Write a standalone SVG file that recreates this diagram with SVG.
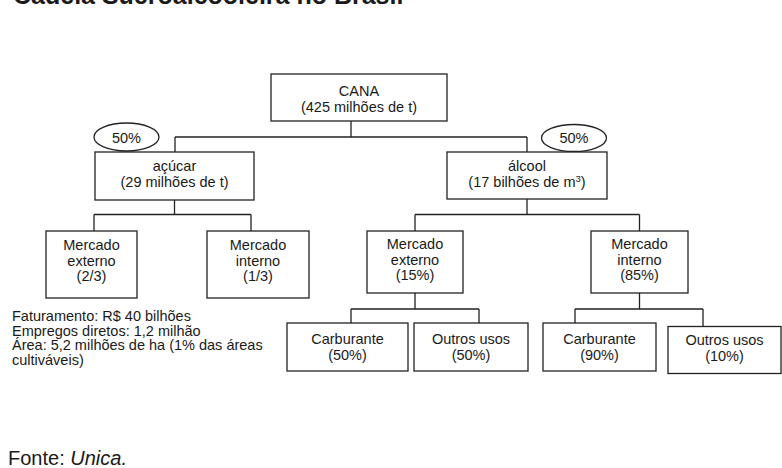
<svg xmlns="http://www.w3.org/2000/svg" width="782" height="468" viewBox="0 0 782 468">
<style>
  .box { fill: #ffffff; stroke: #222222; stroke-width: 1.3; }
  .ell { fill: #ffffff; stroke: #222222; stroke-width: 1.3; }
  .conn { fill: none; stroke: #222222; stroke-width: 1.3; }
  text { font-family: "Liberation Sans", Arial, Helvetica, sans-serif; fill: #1a1a1a; }
  .t { font-size: 14.5px; text-anchor: middle; }
  .note { font-size: 14.5px; }
  .title { font-size: 25px; font-weight: bold; }
  .src { font-size: 20px; }
</style>
<rect x="0" y="0" width="782" height="468" fill="#ffffff"/>
<text class="title" x="13" y="3.5">Cadeia Sucroalcooleira no Brasil</text>

<g id="connectors">
  <path class="conn" d="M351 121 V137 M175 137 H527 M175 137 V152 M527 137 V152"/>
  <path class="conn" d="M174.5 200 V214.5 M94 214.5 H251 M94 214.5 V231 M251 214.5 V231"/>
  <path class="conn" d="M527 199 V214.5 M415 214.5 H639.5 M415 214.5 V231 M639.5 214.5 V231"/>
  <path class="conn" d="M415 293 V309 M351 309 H479 M351 309 V323 M479 309 V323"/>
  <path class="conn" d="M639.5 293 V309 M575 309 H703 M575 309 V323 M703 309 V326.5"/>
</g>

<g id="cana">
  <rect class="box" x="271" y="74" width="176" height="47"/>
  <text class="t" x="359" y="96">CANA</text>
  <text class="t" x="359" y="112">(425 milhões de t)</text>
</g>

<g id="pct-acucar">
  <ellipse class="ell" cx="126.5" cy="137" rx="32.5" ry="14"/>
  <text class="t" x="126.5" y="143">50%</text>
</g>

<g id="pct-alcool">
  <ellipse class="ell" cx="574" cy="138" rx="32.5" ry="13.5"/>
  <text class="t" x="574" y="142.5">50%</text>
</g>

<g id="acucar">
  <rect class="box" x="95" y="152" width="159" height="48"/>
  <text class="t" x="174.5" y="171">açúcar</text>
  <text class="t" x="174.5" y="187">(29 milhões de t)</text>
</g>

<g id="alcool">
  <rect class="box" x="447" y="152" width="160" height="47"/>
  <text class="t" x="527" y="171">álcool</text>
  <text class="t" x="527" y="187">(17 bilhões de m<tspan font-size="9.5px" dy="-5">3</tspan><tspan dy="5">)</tspan></text>
</g>

<g id="acucar-externo">
  <rect class="box" x="46" y="231" width="91" height="67"/>
  <text class="t" x="91.5" y="250">Mercado</text>
  <text class="t" x="91.5" y="266">externo</text>
  <text class="t" x="91.5" y="281">(2/3)</text>
</g>

<g id="acucar-interno">
  <rect class="box" x="207" y="231" width="102" height="67"/>
  <text class="t" x="258" y="250">Mercado</text>
  <text class="t" x="258" y="266">interno</text>
  <text class="t" x="258" y="281">(1/3)</text>
</g>

<g id="alcool-externo">
  <rect class="box" x="367" y="231" width="96" height="62"/>
  <text class="t" x="415" y="249">Mercado</text>
  <text class="t" x="415" y="265">externo</text>
  <text class="t" x="415" y="280">(15%)</text>
</g>

<g id="alcool-interno">
  <rect class="box" x="591" y="231" width="97" height="62"/>
  <text class="t" x="639.5" y="249">Mercado</text>
  <text class="t" x="639.5" y="265">interno</text>
  <text class="t" x="639.5" y="280">(85%)</text>
</g>

<g id="externo-carburante">
  <rect class="box" x="287" y="323" width="121" height="48"/>
  <text class="t" x="347.5" y="344">Carburante</text>
  <text class="t" x="347.5" y="360">(50%)</text>
</g>

<g id="externo-outros">
  <rect class="box" x="414" y="323" width="114" height="48"/>
  <text class="t" x="471" y="344">Outros usos</text>
  <text class="t" x="471" y="360">(50%)</text>
</g>

<g id="interno-carburante">
  <rect class="box" x="543" y="323" width="113" height="48"/>
  <text class="t" x="599.5" y="344">Carburante</text>
  <text class="t" x="599.5" y="360">(90%)</text>
</g>

<g id="interno-outros">
  <rect class="box" x="668" y="326.5" width="113" height="47"/>
  <text class="t" x="724.5" y="345">Outros usos</text>
  <text class="t" x="724.5" y="361">(10%)</text>
</g>

<g id="notes">
  <text class="note" x="12" y="321">Faturamento: R$ 40 bilhões</text>
  <text class="note" x="12" y="335.5">Empregos diretos: 1,2 milhão</text>
  <text class="note" x="12" y="350">Área: 5,2 milhões de ha (1% das áreas</text>
  <text class="note" x="12" y="364.5">cultiváveis)</text>
</g>

<text class="src" x="8" y="465">Fonte: <tspan font-style="italic">Unica.</tspan></text>
</svg>
